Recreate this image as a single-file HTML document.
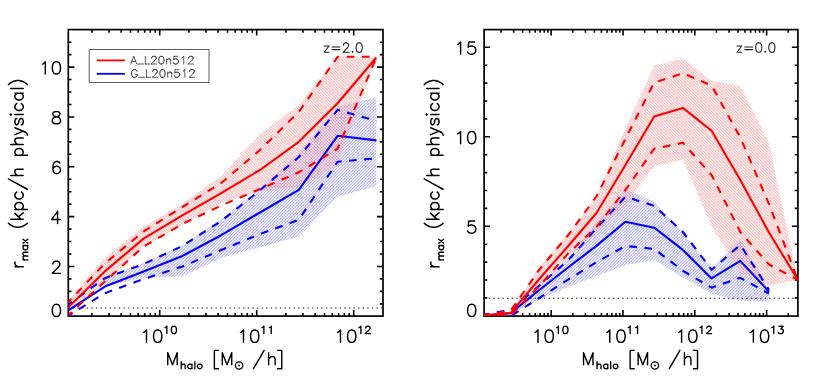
<!DOCTYPE html>
<html><head><meta charset="utf-8"><style>html,body{margin:0;padding:0;background:#fff;font-family:"Liberation Sans",sans-serif}svg{display:block}</style></head><body><svg width="830" height="377" viewBox="0 0 830 377">
<defs><pattern id="hb" patternUnits="userSpaceOnUse" width="3" height="3" shape-rendering="crispEdges"><rect x="0" y="0" width="1" height="1" fill="#0000ff" fill-opacity="0.250"/><rect x="1" y="0" width="1" height="1" fill="#0000ff" fill-opacity="0.170"/><rect x="2" y="0" width="1" height="1" fill="#0000ff" fill-opacity="0.010"/><rect x="0" y="1" width="1" height="1" fill="#0000ff" fill-opacity="0.170"/><rect x="1" y="1" width="1" height="1" fill="#0000ff" fill-opacity="0.010"/><rect x="2" y="1" width="1" height="1" fill="#0000ff" fill-opacity="0.250"/><rect x="0" y="2" width="1" height="1" fill="#0000ff" fill-opacity="0.010"/><rect x="1" y="2" width="1" height="1" fill="#0000ff" fill-opacity="0.250"/><rect x="2" y="2" width="1" height="1" fill="#0000ff" fill-opacity="0.170"/></pattern><pattern id="hr" patternUnits="userSpaceOnUse" width="3" height="3" shape-rendering="crispEdges"><rect x="0" y="0" width="1" height="1" fill="#ff0000" fill-opacity="0.250"/><rect x="1" y="0" width="1" height="1" fill="#ff0000" fill-opacity="0.170"/><rect x="2" y="0" width="1" height="1" fill="#ff0000" fill-opacity="0.010"/><rect x="0" y="1" width="1" height="1" fill="#ff0000" fill-opacity="0.010"/><rect x="1" y="1" width="1" height="1" fill="#ff0000" fill-opacity="0.250"/><rect x="2" y="1" width="1" height="1" fill="#ff0000" fill-opacity="0.170"/><rect x="0" y="2" width="1" height="1" fill="#ff0000" fill-opacity="0.170"/><rect x="1" y="2" width="1" height="1" fill="#ff0000" fill-opacity="0.010"/><rect x="2" y="2" width="1" height="1" fill="#ff0000" fill-opacity="0.250"/></pattern></defs>
<rect width="830" height="377" fill="#fff"/>
<clipPath id="clip1"><rect x="68.30" y="29.60" width="314.70" height="286.50"/></clipPath>
<g clip-path="url(#clip1)">
<polygon points="104.8,277.5 143.6,263.0 182.4,245.0 221.2,219.0 260.0,188.0 298.8,153.0 337.6,107.0 376.4,97.0 376.4,185.9 337.6,196.8 298.8,236.5 260.0,247.5 221.2,258.0 182.4,276.5 143.6,277.5 104.8,287.0" fill="url(#hb)"/>
<polygon points="66.0,303.0 104.8,257.5 143.6,226.6 182.4,203.5 221.2,176.0 260.0,134.0 298.8,105.0 337.6,56.8 376.4,56.8 376.4,57.5 337.6,165.0 298.8,186.9 260.0,190.9 221.2,203.0 182.4,225.0 143.6,245.9 104.8,283.0 66.0,314.0" fill="#fff" fill-opacity="0.3"/>
<polygon points="66.0,303.0 104.8,257.5 143.6,226.6 182.4,203.5 221.2,176.0 260.0,134.0 298.8,105.0 337.6,56.8 376.4,56.8 376.4,57.5 337.6,165.0 298.8,186.9 260.0,190.9 221.2,203.0 182.4,225.0 143.6,245.9 104.8,283.0 66.0,314.0" fill="url(#hr)"/>
</g>
<clipPath id="clip2"><rect x="484.10" y="29.60" width="313.80" height="286.50"/></clipPath>
<g clip-path="url(#clip2)">
<polygon points="510.6,314.0 539.3,284.0 568.0,258.0 596.7,222.0 625.4,189.0 654.2,201.8 682.9,233.0 711.6,268.0 740.3,239.0 769.0,290.0 769.0,301.7 740.3,300.7 711.6,293.7 682.9,277.8 654.2,259.9 625.4,265.0 596.7,276.0 568.0,287.0 539.3,300.0 510.6,314.0" fill="url(#hb)"/>
<polygon points="510.6,313.0 539.3,267.0 568.0,233.5 596.7,196.0 625.4,128.0 654.2,65.8 682.9,58.4 711.6,80.7 740.3,85.7 769.0,143.0 797.8,279.8 797.8,279.8 769.0,285.7 740.3,273.0 711.6,226.0 682.9,159.7 654.2,165.7 625.4,205.0 596.7,232.5 568.0,257.0 539.3,288.0 510.6,315.0" fill="#fff" fill-opacity="0.3"/>
<polygon points="510.6,313.0 539.3,267.0 568.0,233.5 596.7,196.0 625.4,128.0 654.2,65.8 682.9,58.4 711.6,80.7 740.3,85.7 769.0,143.0 797.8,279.8 797.8,279.8 769.0,285.7 740.3,273.0 711.6,226.0 682.9,159.7 654.2,165.7 625.4,205.0 596.7,232.5 568.0,257.0 539.3,288.0 510.6,315.0" fill="url(#hr)"/>
</g>
<path d="M91.90 316.10v-3.20M91.90 29.60v3.20M108.98 316.10v-3.20M108.98 29.60v3.20M121.10 316.10v-3.20M121.10 29.60v3.20M130.50 316.10v-3.20M130.50 29.60v3.20M138.18 316.10v-3.20M138.18 29.60v3.20M144.67 316.10v-3.20M144.67 29.60v3.20M150.30 316.10v-3.20M150.30 29.60v3.20M155.26 316.10v-3.20M155.26 29.60v3.20M159.70 316.10v-6.00M159.70 29.60v6.00M188.90 316.10v-3.20M188.90 29.60v3.20M205.98 316.10v-3.20M205.98 29.60v3.20M218.10 316.10v-3.20M218.10 29.60v3.20M227.50 316.10v-3.20M227.50 29.60v3.20M235.18 316.10v-3.20M235.18 29.60v3.20M241.67 316.10v-3.20M241.67 29.60v3.20M247.30 316.10v-3.20M247.30 29.60v3.20M252.26 316.10v-3.20M252.26 29.60v3.20M256.70 316.10v-6.00M256.70 29.60v6.00M285.90 316.10v-3.20M285.90 29.60v3.20M302.98 316.10v-3.20M302.98 29.60v3.20M315.10 316.10v-3.20M315.10 29.60v3.20M324.50 316.10v-3.20M324.50 29.60v3.20M332.18 316.10v-3.20M332.18 29.60v3.20M338.67 316.10v-3.20M338.67 29.60v3.20M344.30 316.10v-3.20M344.30 29.60v3.20M349.26 316.10v-3.20M349.26 29.60v3.20M353.70 316.10v-6.00M353.70 29.60v6.00M68.30 266.46h6M383.00 266.46h-6M68.30 216.62h6M383.00 216.62h-6M68.30 166.78h6M383.00 166.78h-6M68.30 116.94h6M383.00 116.94h-6M68.30 67.10h6M383.00 67.10h-6M68.30 303.84h3.2M383.00 303.84h-3.2M68.30 291.38h3.2M383.00 291.38h-3.2M68.30 278.92h3.2M383.00 278.92h-3.2M68.30 254.00h3.2M383.00 254.00h-3.2M68.30 241.54h3.2M383.00 241.54h-3.2M68.30 229.08h3.2M383.00 229.08h-3.2M68.30 204.16h3.2M383.00 204.16h-3.2M68.30 191.70h3.2M383.00 191.70h-3.2M68.30 179.24h3.2M383.00 179.24h-3.2M68.30 154.32h3.2M383.00 154.32h-3.2M68.30 141.86h3.2M383.00 141.86h-3.2M68.30 129.40h3.2M383.00 129.40h-3.2M68.30 104.48h3.2M383.00 104.48h-3.2M68.30 92.02h3.2M383.00 92.02h-3.2M68.30 79.56h3.2M383.00 79.56h-3.2M68.30 54.64h3.2M383.00 54.64h-3.2M68.30 42.18h3.2M383.00 42.18h-3.2" stroke="#000" stroke-width="1.6" fill="none"/>
<rect x="68.30" y="29.60" width="314.70" height="286.50" fill="none" stroke="#000" stroke-width="1.70"/>
<path d="M501.01 316.10v-3.20M501.01 29.60v3.20M513.66 316.10v-3.20M513.66 29.60v3.20M522.63 316.10v-3.20M522.63 29.60v3.20M529.59 316.10v-3.20M529.59 29.60v3.20M535.27 316.10v-3.20M535.27 29.60v3.20M540.08 316.10v-3.20M540.08 29.60v3.20M544.24 316.10v-3.20M544.24 29.60v3.20M547.91 316.10v-3.20M547.91 29.60v3.20M551.20 316.10v-6.00M551.20 29.60v6.00M572.81 316.10v-3.20M572.81 29.60v3.20M585.46 316.10v-3.20M585.46 29.60v3.20M594.43 316.10v-3.20M594.43 29.60v3.20M601.39 316.10v-3.20M601.39 29.60v3.20M607.07 316.10v-3.20M607.07 29.60v3.20M611.88 316.10v-3.20M611.88 29.60v3.20M616.04 316.10v-3.20M616.04 29.60v3.20M619.71 316.10v-3.20M619.71 29.60v3.20M623.00 316.10v-6.00M623.00 29.60v6.00M644.61 316.10v-3.20M644.61 29.60v3.20M657.26 316.10v-3.20M657.26 29.60v3.20M666.23 316.10v-3.20M666.23 29.60v3.20M673.19 316.10v-3.20M673.19 29.60v3.20M678.87 316.10v-3.20M678.87 29.60v3.20M683.68 316.10v-3.20M683.68 29.60v3.20M687.84 316.10v-3.20M687.84 29.60v3.20M691.51 316.10v-3.20M691.51 29.60v3.20M694.80 316.10v-6.00M694.80 29.60v6.00M716.41 316.10v-3.20M716.41 29.60v3.20M729.06 316.10v-3.20M729.06 29.60v3.20M738.03 316.10v-3.20M738.03 29.60v3.20M744.99 316.10v-3.20M744.99 29.60v3.20M750.67 316.10v-3.20M750.67 29.60v3.20M755.48 316.10v-3.20M755.48 29.60v3.20M759.64 316.10v-3.20M759.64 29.60v3.20M763.31 316.10v-3.20M763.31 29.60v3.20M766.60 316.10v-6.00M766.60 29.60v6.00M788.21 316.10v-3.20M788.21 29.60v3.20M484.10 226.30h6M797.90 226.30h-6M484.10 136.80h6M797.90 136.80h-6M484.10 47.30h6M797.90 47.30h-6M484.10 297.90h3.2M797.90 297.90h-3.2M484.10 280.00h3.2M797.90 280.00h-3.2M484.10 262.10h3.2M797.90 262.10h-3.2M484.10 244.20h3.2M797.90 244.20h-3.2M484.10 208.40h3.2M797.90 208.40h-3.2M484.10 190.50h3.2M797.90 190.50h-3.2M484.10 172.60h3.2M797.90 172.60h-3.2M484.10 154.70h3.2M797.90 154.70h-3.2M484.10 118.90h3.2M797.90 118.90h-3.2M484.10 101.00h3.2M797.90 101.00h-3.2M484.10 83.10h3.2M797.90 83.10h-3.2M484.10 65.20h3.2M797.90 65.20h-3.2" stroke="#000" stroke-width="1.6" fill="none"/>
<rect x="484.10" y="29.60" width="313.80" height="286.50" fill="none" stroke="#000" stroke-width="1.70"/>
<line x1="68.30" x2="383.00" y1="308.00" y2="308.00" stroke="#111" stroke-width="1.05" stroke-dasharray="1.35 3.25"/>
<g clip-path="url(#clip1)" fill="none" stroke-linejoin="round">
<polyline points="66.0,311.8 104.8,286.6 143.6,271.5 182.4,256.0 221.2,235.2 260.0,212.5 298.8,189.9 337.6,135.8 376.4,140.4" stroke="#0000ff" stroke-width="2.1" />
<polyline points="66.0,306.3 104.8,278.2 143.6,264.0 182.4,246.0 221.2,221.0 260.0,190.3 298.8,157.0 337.6,109.9 376.4,120.9" stroke="#0000ff" stroke-width="2.1" stroke-dasharray="7.7 7.5"/>
<polyline points="66.0,317.0 104.8,293.2 143.6,279.0 182.4,266.5 221.2,250.0 260.0,234.0 298.8,219.8 337.6,161.7 376.4,158.3" stroke="#0000ff" stroke-width="2.1" stroke-dasharray="7.7 7.5"/>
<polyline points="66.0,309.6 104.8,271.4 143.6,238.6 182.4,215.4 221.2,193.1 260.0,170.0 298.8,141.8 337.6,103.3 376.4,57.5" stroke="#ff0000" stroke-width="2.1" />
<polyline points="66.0,304.5 104.8,263.5 143.6,231.5 182.4,207.0 221.2,183.0 260.0,150.0 298.8,111.9 337.6,56.8 376.4,56.8" stroke="#ff0000" stroke-width="2.1" stroke-dasharray="7.7 7.5"/>
<polyline points="66.0,317.2 104.8,281.6 143.6,246.6 182.4,224.0 221.2,205.5 260.0,189.0 298.8,172.3 337.6,148.7 376.4,57.5" stroke="#ff0000" stroke-width="2.1" stroke-dasharray="7.7 7.5"/>
</g>
<line x1="484.10" x2="797.90" y1="298.20" y2="298.20" stroke="#111" stroke-width="1.05" stroke-dasharray="1.35 3.25"/>
<g clip-path="url(#clip2)" fill="none" stroke-linejoin="round">
<polyline points="481.8,315.5 510.6,313.1 539.3,290.0 568.0,267.5 596.7,245.6 625.4,221.7 654.2,227.7 682.9,249.9 711.6,278.4 740.3,260.9 769.0,291.7" stroke="#0000ff" stroke-width="2.1" />
<polyline points="481.8,315.0 510.6,310.0 539.3,285.5 568.0,260.5 596.7,228.0 625.4,196.8 654.2,205.8 682.9,232.0 711.6,269.8 740.3,244.9 769.0,289.7" stroke="#0000ff" stroke-width="2.1" stroke-dasharray="7.7 7.5"/>
<polyline points="481.8,317.0 510.6,316.0 539.3,298.0 568.0,279.7 596.7,262.0 625.4,246.0 654.2,248.9 682.9,270.8 711.6,287.7 740.3,277.8 769.0,293.7" stroke="#0000ff" stroke-width="2.1" stroke-dasharray="7.7 7.5"/>
<polyline points="481.8,315.8 510.6,313.2 539.3,279.0 568.0,246.3 596.7,212.8 625.4,165.0 654.2,116.5 682.9,107.9 711.6,130.8 740.3,180.0 769.0,232.5 797.8,279.8" stroke="#ff0000" stroke-width="2.1" />
<polyline points="481.8,315.3 510.6,310.8 539.3,269.7 568.0,235.3 596.7,196.0 625.4,139.0 654.2,82.5 682.9,73.4 711.6,85.5 740.3,137.5 769.0,204.0 797.8,279.8" stroke="#ff0000" stroke-width="2.1" stroke-dasharray="7.7 7.5"/>
<polyline points="481.8,316.5 510.6,315.5 539.3,286.0 568.0,253.6 596.7,226.7 625.4,190.0 654.2,148.7 682.9,142.8 711.6,175.0 740.3,232.0 769.0,264.5 797.8,279.8" stroke="#ff0000" stroke-width="2.1" stroke-dasharray="7.7 7.5"/>
</g>
<path transform="translate(60.50 273.35)" d="M-2.34 -5.80L-8.19 0.00M-8.19 0.00L0.00 0.00M-5.27 -12.18L-2.93 -12.18M-1.17 -7.54L-2.34 -5.80M-5.27 -12.18L-6.44 -11.60M-2.93 -12.18L-1.76 -11.60M-7.02 -11.02L-7.61 -9.86M-1.17 -11.02L-0.59 -9.86M-0.59 -8.70L-1.17 -7.54M-0.59 -9.86L-0.59 -8.70M-6.44 -11.60L-7.02 -11.02M-1.76 -11.60L-1.17 -11.02M-7.61 -9.86L-7.61 -9.28" fill="none" stroke="#000" stroke-width="1.42" stroke-linecap="round" stroke-linejoin="round" />
<path transform="translate(60.50 223.51)" d="M-2.92 -12.18L-2.92 0.00M-2.92 -12.18L-8.77 -4.06M-8.77 -4.06L0.00 -4.06" fill="none" stroke="#000" stroke-width="1.42" stroke-linecap="round" stroke-linejoin="round" />
<path transform="translate(60.50 173.67)" d="M-7.02 -9.86L-7.61 -6.96M-7.61 -6.96L-7.61 -4.06M-7.61 -4.06L-7.02 -1.74M-5.85 -11.60L-7.02 -9.86M-4.10 -12.18L-5.85 -11.60M-2.93 -12.18L-1.17 -11.60M-4.10 -7.54L-5.85 -6.96M-3.51 -7.54L-1.76 -6.96M-7.02 -5.80L-7.61 -4.06M-0.59 -5.80L0.00 -4.06M0.00 -3.48L-0.59 -1.74M-5.85 -0.58L-4.10 0.00M-1.76 -0.58L-3.51 0.00M-5.85 -6.96L-7.02 -5.80M-1.76 -6.96L-0.59 -5.80M-7.02 -1.74L-5.85 -0.58M-0.59 -1.74L-1.76 -0.58M-1.17 -11.60L-0.59 -10.44M-4.10 -12.18L-2.93 -12.18M-4.10 -7.54L-3.51 -7.54M0.00 -4.06L0.00 -3.48M-4.10 0.00L-3.51 0.00" fill="none" stroke="#000" stroke-width="1.42" stroke-linecap="round" stroke-linejoin="round" />
<path transform="translate(60.50 123.83)" d="M-2.34 -7.54L-6.44 -6.38M-5.85 -7.54L-3.51 -6.96M-5.27 -12.18L-2.93 -12.18M-5.27 0.00L-2.93 0.00M-5.27 -12.18L-7.02 -11.60M-2.93 -12.18L-1.17 -11.60M-3.51 -6.96L-1.76 -6.38M-7.02 -0.58L-5.27 0.00M-1.17 -0.58L-2.93 0.00M-8.19 -4.06L-8.19 -2.32M0.00 -4.06L0.00 -2.32M-6.44 -6.38L-7.61 -5.22M-1.76 -6.38L-0.59 -5.22M-7.02 -11.60L-7.61 -10.44M-1.17 -11.60L-0.59 -10.44M-7.61 -9.28L-7.02 -8.12M-0.59 -9.28L-1.17 -8.12M-7.02 -8.12L-5.85 -7.54M-1.17 -8.12L-2.34 -7.54M-7.61 -5.22L-8.19 -4.06M-0.59 -5.22L0.00 -4.06M-8.19 -2.32L-7.61 -1.16M0.00 -2.32L-0.59 -1.16M-7.61 -10.44L-7.61 -9.28M-0.59 -10.44L-0.59 -9.28M-7.61 -1.16L-7.02 -0.58M-0.59 -1.16L-1.17 -0.58" fill="none" stroke="#000" stroke-width="1.42" stroke-linecap="round" stroke-linejoin="round" />
<path transform="translate(60.50 73.99)" d="M-15.21 -12.18L-15.21 0.00M-15.21 -12.18L-16.96 -10.44M-16.96 -10.44L-18.13 -9.86M-7.61 -9.86L-8.19 -6.96M-0.59 -9.86L0.00 -6.96M-8.19 -5.22L-7.61 -2.32M0.00 -5.22L-0.59 -2.32M-6.44 -11.60L-7.61 -9.86M-1.75 -11.60L-0.59 -9.86M-7.61 -2.32L-6.44 -0.58M-0.59 -2.32L-1.75 -0.58M-4.68 -12.18L-6.44 -11.60M-3.51 -12.18L-1.75 -11.60M-6.44 -0.58L-4.68 0.00M-1.75 -0.58L-3.51 0.00M-8.19 -6.96L-8.19 -5.22M0.00 -6.96L0.00 -5.22M-4.68 -12.18L-3.51 -12.18M-4.68 0.00L-3.51 0.00" fill="none" stroke="#000" stroke-width="1.42" stroke-linecap="round" stroke-linejoin="round" />
<path transform="translate(60.50 316.49)" d="M-7.61 -9.86L-8.19 -6.96M-0.59 -9.86L0.00 -6.96M-8.19 -5.22L-7.61 -2.32M0.00 -5.22L-0.59 -2.32M-6.44 -11.60L-7.61 -9.86M-1.76 -11.60L-0.59 -9.86M-7.61 -2.32L-6.44 -0.58M-0.59 -2.32L-1.76 -0.58M-4.68 -12.18L-6.44 -11.60M-3.51 -12.18L-1.76 -11.60M-6.44 -0.58L-4.68 0.00M-1.76 -0.58L-3.51 0.00M-8.19 -6.96L-8.19 -5.22M0.00 -6.96L0.00 -5.22M-4.68 -12.18L-3.51 -12.18M-4.68 0.00L-3.51 0.00" fill="none" stroke="#000" stroke-width="1.42" stroke-linecap="round" stroke-linejoin="round" />
<path transform="translate(475.80 233.19)" d="M-7.02 -12.18L-1.17 -12.18M-7.02 -12.18L-7.61 -6.96M-5.27 -8.12L-7.02 -7.54M-3.51 -8.12L-1.76 -7.54M-0.59 -6.38L0.00 -4.64M0.00 -3.48L-0.59 -1.74M-7.02 -0.58L-5.27 0.00M-1.76 -0.58L-3.51 0.00M-5.27 -8.12L-3.51 -8.12M-5.27 0.00L-3.51 0.00M-1.76 -7.54L-0.59 -6.38M-0.59 -1.74L-1.76 -0.58M-8.19 -2.32L-7.61 -1.16M0.00 -4.64L0.00 -3.48M-7.02 -7.54L-7.61 -6.96M-7.61 -1.16L-7.02 -0.58" fill="none" stroke="#000" stroke-width="1.42" stroke-linecap="round" stroke-linejoin="round" />
<path transform="translate(475.80 143.69)" d="M-15.21 -12.18L-15.21 0.00M-15.21 -12.18L-16.96 -10.44M-16.96 -10.44L-18.13 -9.86M-7.61 -9.86L-8.19 -6.96M-0.59 -9.86L0.00 -6.96M-8.19 -5.22L-7.61 -2.32M0.00 -5.22L-0.59 -2.32M-6.44 -11.60L-7.61 -9.86M-1.75 -11.60L-0.59 -9.86M-7.61 -2.32L-6.44 -0.58M-0.59 -2.32L-1.75 -0.58M-4.68 -12.18L-6.44 -11.60M-3.51 -12.18L-1.75 -11.60M-6.44 -0.58L-4.68 0.00M-1.75 -0.58L-3.51 0.00M-8.19 -6.96L-8.19 -5.22M0.00 -6.96L0.00 -5.22M-4.68 -12.18L-3.51 -12.18M-4.68 0.00L-3.51 0.00" fill="none" stroke="#000" stroke-width="1.42" stroke-linecap="round" stroke-linejoin="round" />
<path transform="translate(475.80 54.19)" d="M-15.21 -12.18L-15.21 0.00M-15.21 -12.18L-16.96 -10.44M-16.96 -10.44L-18.13 -9.86M-7.02 -12.18L-1.17 -12.18M-7.02 -12.18L-7.61 -6.96M-5.27 -8.12L-7.02 -7.54M-3.51 -8.12L-1.75 -7.54M-0.59 -6.38L0.00 -4.64M0.00 -3.48L-0.59 -1.74M-7.02 -0.58L-5.27 0.00M-1.75 -0.58L-3.51 0.00M-5.27 -8.12L-3.51 -8.12M-5.27 0.00L-3.51 0.00M-1.75 -7.54L-0.59 -6.38M-0.59 -1.74L-1.75 -0.58M-8.19 -2.32L-7.61 -1.16M0.00 -4.64L0.00 -3.48M-7.02 -7.54L-7.61 -6.96M-7.61 -1.16L-7.02 -0.58" fill="none" stroke="#000" stroke-width="1.42" stroke-linecap="round" stroke-linejoin="round" />
<path transform="translate(475.80 316.49)" d="M-7.61 -9.86L-8.19 -6.96M-0.59 -9.86L0.00 -6.96M-8.19 -5.22L-7.61 -2.32M0.00 -5.22L-0.59 -2.32M-6.44 -11.60L-7.61 -9.86M-1.76 -11.60L-0.59 -9.86M-7.61 -2.32L-6.44 -0.58M-0.59 -2.32L-1.76 -0.58M-4.68 -12.18L-6.44 -11.60M-3.51 -12.18L-1.76 -11.60M-6.44 -0.58L-4.68 0.00M-1.76 -0.58L-3.51 0.00M-8.19 -6.96L-8.19 -5.22M0.00 -6.96L0.00 -5.22M-4.68 -12.18L-3.51 -12.18M-4.68 0.00L-3.51 0.00" fill="none" stroke="#000" stroke-width="1.42" stroke-linecap="round" stroke-linejoin="round" />
<path transform="translate(140.00 342.35)" d="M6.49 -12.29L6.49 0.00M6.49 -12.29L4.72 -10.53M4.72 -10.53L3.54 -9.95M14.16 -9.95L13.57 -7.02M21.24 -9.95L21.83 -7.02M13.57 -5.26L14.16 -2.34M21.83 -5.26L21.24 -2.34M15.34 -11.70L14.16 -9.95M20.06 -11.70L21.24 -9.95M14.16 -2.34L15.34 -0.58M21.24 -2.34L20.06 -0.58M17.11 -12.29L15.34 -11.70M18.29 -12.29L20.06 -11.70M15.34 -0.58L17.11 0.00M20.06 -0.58L18.29 0.00M13.57 -7.02L13.57 -5.26M21.83 -7.02L21.83 -5.26M17.11 -12.29L18.29 -12.29M17.11 0.00L18.29 0.00" fill="none" stroke="#000" stroke-width="1.45" stroke-linecap="round" stroke-linejoin="round" />
<path transform="translate(162.80 333.60)" d="M4.07 -7.35L4.07 0.00M4.07 -7.35L2.96 -6.30M2.96 -6.30L2.22 -5.95M8.88 -5.95L8.51 -4.20M13.32 -5.95L13.69 -4.20M8.51 -3.15L8.88 -1.40M13.69 -3.15L13.32 -1.40M9.62 -7.00L8.88 -5.95M12.58 -7.00L13.32 -5.95M8.88 -1.40L9.62 -0.35M13.32 -1.40L12.58 -0.35M10.73 -7.35L9.62 -7.00M11.47 -7.35L12.58 -7.00M9.62 -0.35L10.73 0.00M12.58 -0.35L11.47 0.00M8.51 -4.20L8.51 -3.15M13.69 -4.20L13.69 -3.15M10.73 -7.35L11.47 -7.35M10.73 0.00L11.47 0.00" fill="none" stroke="#000" stroke-width="1.35" stroke-linecap="round" stroke-linejoin="round" />
<path transform="translate(237.00 342.35)" d="M6.49 -12.29L6.49 0.00M6.49 -12.29L4.72 -10.53M4.72 -10.53L3.54 -9.95M14.16 -9.95L13.57 -7.02M21.24 -9.95L21.83 -7.02M13.57 -5.26L14.16 -2.34M21.83 -5.26L21.24 -2.34M15.34 -11.70L14.16 -9.95M20.06 -11.70L21.24 -9.95M14.16 -2.34L15.34 -0.58M21.24 -2.34L20.06 -0.58M17.11 -12.29L15.34 -11.70M18.29 -12.29L20.06 -11.70M15.34 -0.58L17.11 0.00M20.06 -0.58L18.29 0.00M13.57 -7.02L13.57 -5.26M21.83 -7.02L21.83 -5.26M17.11 -12.29L18.29 -12.29M17.11 0.00L18.29 0.00" fill="none" stroke="#000" stroke-width="1.45" stroke-linecap="round" stroke-linejoin="round" />
<path transform="translate(259.80 333.60)" d="M4.07 -7.35L4.07 0.00M4.07 -7.35L2.96 -6.30M2.96 -6.30L2.22 -5.95M11.47 -7.35L11.47 0.00M11.47 -7.35L10.36 -6.30M10.36 -6.30L9.62 -5.95" fill="none" stroke="#000" stroke-width="1.35" stroke-linecap="round" stroke-linejoin="round" />
<path transform="translate(334.00 342.35)" d="M6.49 -12.29L6.49 0.00M6.49 -12.29L4.72 -10.53M4.72 -10.53L3.54 -9.95M14.16 -9.95L13.57 -7.02M21.24 -9.95L21.83 -7.02M13.57 -5.26L14.16 -2.34M21.83 -5.26L21.24 -2.34M15.34 -11.70L14.16 -9.95M20.06 -11.70L21.24 -9.95M14.16 -2.34L15.34 -0.58M21.24 -2.34L20.06 -0.58M17.11 -12.29L15.34 -11.70M18.29 -12.29L20.06 -11.70M15.34 -0.58L17.11 0.00M20.06 -0.58L18.29 0.00M13.57 -7.02L13.57 -5.26M21.83 -7.02L21.83 -5.26M17.11 -12.29L18.29 -12.29M17.11 0.00L18.29 0.00" fill="none" stroke="#000" stroke-width="1.45" stroke-linecap="round" stroke-linejoin="round" />
<path transform="translate(356.80 333.60)" d="M4.07 -7.35L4.07 0.00M4.07 -7.35L2.96 -6.30M2.96 -6.30L2.22 -5.95M12.21 -3.50L8.51 0.00M8.51 0.00L13.69 0.00M10.36 -7.35L11.84 -7.35M12.95 -4.55L12.21 -3.50M10.36 -7.35L9.62 -7.00M11.84 -7.35L12.58 -7.00M9.25 -6.65L8.88 -5.95M12.95 -6.65L13.32 -5.95M13.32 -5.25L12.95 -4.55M13.32 -5.95L13.32 -5.25M9.62 -7.00L9.25 -6.65M12.58 -7.00L12.95 -6.65M8.88 -5.95L8.88 -5.60" fill="none" stroke="#000" stroke-width="1.35" stroke-linecap="round" stroke-linejoin="round" />
<path transform="translate(531.50 342.35)" d="M6.49 -12.29L6.49 0.00M6.49 -12.29L4.72 -10.53M4.72 -10.53L3.54 -9.95M14.16 -9.95L13.57 -7.02M21.24 -9.95L21.83 -7.02M13.57 -5.26L14.16 -2.34M21.83 -5.26L21.24 -2.34M15.34 -11.70L14.16 -9.95M20.06 -11.70L21.24 -9.95M14.16 -2.34L15.34 -0.58M21.24 -2.34L20.06 -0.58M17.11 -12.29L15.34 -11.70M18.29 -12.29L20.06 -11.70M15.34 -0.58L17.11 0.00M20.06 -0.58L18.29 0.00M13.57 -7.02L13.57 -5.26M21.83 -7.02L21.83 -5.26M17.11 -12.29L18.29 -12.29M17.11 0.00L18.29 0.00" fill="none" stroke="#000" stroke-width="1.45" stroke-linecap="round" stroke-linejoin="round" />
<path transform="translate(554.30 333.60)" d="M4.07 -7.35L4.07 0.00M4.07 -7.35L2.96 -6.30M2.96 -6.30L2.22 -5.95M8.88 -5.95L8.51 -4.20M13.32 -5.95L13.69 -4.20M8.51 -3.15L8.88 -1.40M13.69 -3.15L13.32 -1.40M9.62 -7.00L8.88 -5.95M12.58 -7.00L13.32 -5.95M8.88 -1.40L9.62 -0.35M13.32 -1.40L12.58 -0.35M10.73 -7.35L9.62 -7.00M11.47 -7.35L12.58 -7.00M9.62 -0.35L10.73 0.00M12.58 -0.35L11.47 0.00M8.51 -4.20L8.51 -3.15M13.69 -4.20L13.69 -3.15M10.73 -7.35L11.47 -7.35M10.73 0.00L11.47 0.00" fill="none" stroke="#000" stroke-width="1.35" stroke-linecap="round" stroke-linejoin="round" />
<path transform="translate(603.30 342.35)" d="M6.49 -12.29L6.49 0.00M6.49 -12.29L4.72 -10.53M4.72 -10.53L3.54 -9.95M14.16 -9.95L13.57 -7.02M21.24 -9.95L21.83 -7.02M13.57 -5.26L14.16 -2.34M21.83 -5.26L21.24 -2.34M15.34 -11.70L14.16 -9.95M20.06 -11.70L21.24 -9.95M14.16 -2.34L15.34 -0.58M21.24 -2.34L20.06 -0.58M17.11 -12.29L15.34 -11.70M18.29 -12.29L20.06 -11.70M15.34 -0.58L17.11 0.00M20.06 -0.58L18.29 0.00M13.57 -7.02L13.57 -5.26M21.83 -7.02L21.83 -5.26M17.11 -12.29L18.29 -12.29M17.11 0.00L18.29 0.00" fill="none" stroke="#000" stroke-width="1.45" stroke-linecap="round" stroke-linejoin="round" />
<path transform="translate(626.10 333.60)" d="M4.07 -7.35L4.07 0.00M4.07 -7.35L2.96 -6.30M2.96 -6.30L2.22 -5.95M11.47 -7.35L11.47 0.00M11.47 -7.35L10.36 -6.30M10.36 -6.30L9.62 -5.95" fill="none" stroke="#000" stroke-width="1.35" stroke-linecap="round" stroke-linejoin="round" />
<path transform="translate(675.10 342.35)" d="M6.49 -12.29L6.49 0.00M6.49 -12.29L4.72 -10.53M4.72 -10.53L3.54 -9.95M14.16 -9.95L13.57 -7.02M21.24 -9.95L21.83 -7.02M13.57 -5.26L14.16 -2.34M21.83 -5.26L21.24 -2.34M15.34 -11.70L14.16 -9.95M20.06 -11.70L21.24 -9.95M14.16 -2.34L15.34 -0.58M21.24 -2.34L20.06 -0.58M17.11 -12.29L15.34 -11.70M18.29 -12.29L20.06 -11.70M15.34 -0.58L17.11 0.00M20.06 -0.58L18.29 0.00M13.57 -7.02L13.57 -5.26M21.83 -7.02L21.83 -5.26M17.11 -12.29L18.29 -12.29M17.11 0.00L18.29 0.00" fill="none" stroke="#000" stroke-width="1.45" stroke-linecap="round" stroke-linejoin="round" />
<path transform="translate(697.90 333.60)" d="M4.07 -7.35L4.07 0.00M4.07 -7.35L2.96 -6.30M2.96 -6.30L2.22 -5.95M12.21 -3.50L8.51 0.00M8.51 0.00L13.69 0.00M10.36 -7.35L11.84 -7.35M12.95 -4.55L12.21 -3.50M10.36 -7.35L9.62 -7.00M11.84 -7.35L12.58 -7.00M9.25 -6.65L8.88 -5.95M12.95 -6.65L13.32 -5.95M13.32 -5.25L12.95 -4.55M13.32 -5.95L13.32 -5.25M9.62 -7.00L9.25 -6.65M12.58 -7.00L12.95 -6.65M8.88 -5.95L8.88 -5.60" fill="none" stroke="#000" stroke-width="1.35" stroke-linecap="round" stroke-linejoin="round" />
<path transform="translate(746.90 342.35)" d="M6.49 -12.29L6.49 0.00M6.49 -12.29L4.72 -10.53M4.72 -10.53L3.54 -9.95M14.16 -9.95L13.57 -7.02M21.24 -9.95L21.83 -7.02M13.57 -5.26L14.16 -2.34M21.83 -5.26L21.24 -2.34M15.34 -11.70L14.16 -9.95M20.06 -11.70L21.24 -9.95M14.16 -2.34L15.34 -0.58M21.24 -2.34L20.06 -0.58M17.11 -12.29L15.34 -11.70M18.29 -12.29L20.06 -11.70M15.34 -0.58L17.11 0.00M20.06 -0.58L18.29 0.00M13.57 -7.02L13.57 -5.26M21.83 -7.02L21.83 -5.26M17.11 -12.29L18.29 -12.29M17.11 0.00L18.29 0.00" fill="none" stroke="#000" stroke-width="1.45" stroke-linecap="round" stroke-linejoin="round" />
<path transform="translate(769.70 333.60)" d="M4.07 -7.35L4.07 0.00M4.07 -7.35L2.96 -6.30M2.96 -6.30L2.22 -5.95M9.25 -7.35L13.32 -7.35M13.32 -7.35L11.10 -4.55M13.32 -3.85L13.69 -2.80M13.69 -2.10L13.32 -1.05M9.25 -0.35L10.36 0.00M12.58 -0.35L11.47 0.00M11.10 -4.55L12.21 -4.55M10.36 0.00L11.47 0.00M13.32 -1.05L12.58 -0.35M12.21 -4.55L12.95 -4.20M8.51 -1.40L8.88 -0.70M13.69 -2.80L13.69 -2.10M12.95 -4.20L13.32 -3.85M8.88 -0.70L9.25 -0.35" fill="none" stroke="#000" stroke-width="1.35" stroke-linecap="round" stroke-linejoin="round" />
<path transform="translate(167.75 364.70)" d="M0.00 -12.07L4.72 0.00M9.44 -12.07L4.72 0.00M0.00 -12.07L0.00 0.00M9.44 -12.07L9.44 0.00" fill="none" stroke="#000" stroke-width="1.40" stroke-linecap="round" stroke-linejoin="round" />
<path transform="translate(181.20 368.70)" d="M0.00 -6.93L0.00 0.00M3.96 -3.30L3.96 0.00M1.08 -4.29L0.00 -3.30M3.60 -4.29L3.96 -3.30M1.80 -4.62L2.88 -4.62M1.80 -4.62L1.08 -4.29M2.88 -4.62L3.60 -4.29M10.80 -4.62L10.80 0.00M6.84 -3.63L6.48 -2.64M6.48 -1.98L6.84 -0.99M8.28 -4.62L9.36 -4.62M8.28 0.00L9.36 0.00M7.56 -4.29L6.84 -3.63M10.08 -4.29L10.80 -3.63M6.84 -0.99L7.56 -0.33M10.80 -0.99L10.08 -0.33M8.28 -4.62L7.56 -4.29M9.36 -4.62L10.08 -4.29M7.56 -0.33L8.28 0.00M10.08 -0.33L9.36 0.00M6.48 -2.64L6.48 -1.98M13.68 -6.93L13.68 0.00M16.56 -3.63L16.20 -2.64M20.52 -3.63L20.88 -2.64M16.20 -1.98L16.56 -0.99M20.88 -1.98L20.52 -0.99M18.00 -4.62L19.08 -4.62M18.00 0.00L19.08 0.00M17.28 -4.29L16.56 -3.63M19.80 -4.29L20.52 -3.63M16.56 -0.99L17.28 -0.33M20.52 -0.99L19.80 -0.33M18.00 -4.62L17.28 -4.29M19.08 -4.62L19.80 -4.29M17.28 -0.33L18.00 0.00M19.80 -0.33L19.08 0.00M16.20 -2.64L16.20 -1.98M20.88 -2.64L20.88 -1.98" fill="none" stroke="#000" stroke-width="1.30" stroke-linecap="round" stroke-linejoin="round" />
<path transform="translate(214.35 364.70)" d="M0.00 -14.37L0.00 4.02M0.00 -14.37L4.13 -14.37M0.00 4.02L4.13 4.02" fill="none" stroke="#000" stroke-width="1.40" stroke-linecap="round" stroke-linejoin="round" />
<path transform="translate(222.30 364.70)" d="M0.00 -12.07L4.72 0.00M9.44 -12.07L4.72 0.00M0.00 -12.07L0.00 0.00M9.44 -12.07L9.44 0.00" fill="none" stroke="#000" stroke-width="1.40" stroke-linecap="round" stroke-linejoin="round" />
<circle cx="239.10" cy="365.50" r="3.70" fill="none" stroke="#000" stroke-width="1.30"/><circle cx="239.10" cy="365.50" r="0.9" fill="#000"/>
<path transform="translate(253.45 364.70)" d="M10.62 -14.37L5.31 -5.17M5.31 -5.17L0.00 4.02" fill="none" stroke="#000" stroke-width="1.40" stroke-linecap="round" stroke-linejoin="round" />
<path transform="translate(268.65 364.70)" d="M0.00 -12.07L0.00 0.00M6.49 -5.75L6.49 0.00M1.77 -7.47L0.00 -5.75M5.90 -7.47L6.49 -5.75M2.95 -8.05L4.72 -8.05M2.95 -8.05L1.77 -7.47M4.72 -8.05L5.90 -7.47" fill="none" stroke="#000" stroke-width="1.40" stroke-linecap="round" stroke-linejoin="round" />
<path transform="translate(277.60 364.70)" d="M4.13 -14.37L4.13 4.02M0.00 -14.37L4.13 -14.37M0.00 4.02L4.13 4.02" fill="none" stroke="#000" stroke-width="1.40" stroke-linecap="round" stroke-linejoin="round" />
<path transform="translate(583.55 364.70)" d="M0.00 -12.07L4.72 0.00M9.44 -12.07L4.72 0.00M0.00 -12.07L0.00 0.00M9.44 -12.07L9.44 0.00" fill="none" stroke="#000" stroke-width="1.40" stroke-linecap="round" stroke-linejoin="round" />
<path transform="translate(597.00 368.70)" d="M0.00 -6.93L0.00 0.00M3.96 -3.30L3.96 0.00M1.08 -4.29L0.00 -3.30M3.60 -4.29L3.96 -3.30M1.80 -4.62L2.88 -4.62M1.80 -4.62L1.08 -4.29M2.88 -4.62L3.60 -4.29M10.80 -4.62L10.80 0.00M6.84 -3.63L6.48 -2.64M6.48 -1.98L6.84 -0.99M8.28 -4.62L9.36 -4.62M8.28 0.00L9.36 0.00M7.56 -4.29L6.84 -3.63M10.08 -4.29L10.80 -3.63M6.84 -0.99L7.56 -0.33M10.80 -0.99L10.08 -0.33M8.28 -4.62L7.56 -4.29M9.36 -4.62L10.08 -4.29M7.56 -0.33L8.28 0.00M10.08 -0.33L9.36 0.00M6.48 -2.64L6.48 -1.98M13.68 -6.93L13.68 0.00M16.56 -3.63L16.20 -2.64M20.52 -3.63L20.88 -2.64M16.20 -1.98L16.56 -0.99M20.88 -1.98L20.52 -0.99M18.00 -4.62L19.08 -4.62M18.00 0.00L19.08 0.00M17.28 -4.29L16.56 -3.63M19.80 -4.29L20.52 -3.63M16.56 -0.99L17.28 -0.33M20.52 -0.99L19.80 -0.33M18.00 -4.62L17.28 -4.29M19.08 -4.62L19.80 -4.29M17.28 -0.33L18.00 0.00M19.80 -0.33L19.08 0.00M16.20 -2.64L16.20 -1.98M20.88 -2.64L20.88 -1.98" fill="none" stroke="#000" stroke-width="1.30" stroke-linecap="round" stroke-linejoin="round" />
<path transform="translate(630.15 364.70)" d="M0.00 -14.37L0.00 4.02M0.00 -14.37L4.13 -14.37M0.00 4.02L4.13 4.02" fill="none" stroke="#000" stroke-width="1.40" stroke-linecap="round" stroke-linejoin="round" />
<path transform="translate(638.10 364.70)" d="M0.00 -12.07L4.72 0.00M9.44 -12.07L4.72 0.00M0.00 -12.07L0.00 0.00M9.44 -12.07L9.44 0.00" fill="none" stroke="#000" stroke-width="1.40" stroke-linecap="round" stroke-linejoin="round" />
<circle cx="654.90" cy="365.50" r="3.70" fill="none" stroke="#000" stroke-width="1.30"/><circle cx="654.90" cy="365.50" r="0.9" fill="#000"/>
<path transform="translate(669.25 364.70)" d="M10.62 -14.37L5.31 -5.17M5.31 -5.17L0.00 4.02" fill="none" stroke="#000" stroke-width="1.40" stroke-linecap="round" stroke-linejoin="round" />
<path transform="translate(684.45 364.70)" d="M0.00 -12.07L0.00 0.00M6.49 -5.75L6.49 0.00M1.77 -7.47L0.00 -5.75M5.90 -7.47L6.49 -5.75M2.95 -8.05L4.72 -8.05M2.95 -8.05L1.77 -7.47M4.72 -8.05L5.90 -7.47" fill="none" stroke="#000" stroke-width="1.40" stroke-linecap="round" stroke-linejoin="round" />
<path transform="translate(693.40 364.70)" d="M4.13 -14.37L4.13 4.02M0.00 -14.37L4.13 -14.37M0.00 4.02L4.13 4.02" fill="none" stroke="#000" stroke-width="1.40" stroke-linecap="round" stroke-linejoin="round" />
<path transform="translate(23.20 269.00) rotate(-90)" d="M2.30 -8.26L2.30 0.00M2.88 -6.49L2.30 -4.72M5.17 -8.26L6.90 -8.26M4.02 -7.67L2.88 -6.49M5.17 -8.26L4.02 -7.67" fill="none" stroke="#000" stroke-width="1.50" stroke-linecap="round" stroke-linejoin="round" />
<path transform="translate(27.80 261.30) rotate(-90)" d="M1.40 -4.76L1.40 0.00M5.25 -3.40L5.25 0.00M9.10 -3.40L9.10 0.00M2.45 -4.42L1.40 -3.40M6.30 -4.42L5.25 -3.40M4.90 -4.42L5.25 -3.40M8.75 -4.42L9.10 -3.40M3.15 -4.76L4.20 -4.76M7.00 -4.76L8.05 -4.76M3.15 -4.76L2.45 -4.42M4.20 -4.76L4.90 -4.42M7.00 -4.76L6.30 -4.42M8.05 -4.76L8.75 -4.42M15.75 -4.76L15.75 0.00M11.90 -3.74L11.55 -2.72M11.55 -2.04L11.90 -1.02M13.30 -4.76L14.35 -4.76M13.30 0.00L14.35 0.00M12.60 -4.42L11.90 -3.74M15.05 -4.42L15.75 -3.74M11.90 -1.02L12.60 -0.34M15.75 -1.02L15.05 -0.34M13.30 -4.76L12.60 -4.42M14.35 -4.76L15.05 -4.42M12.60 -0.34L13.30 0.00M15.05 -0.34L14.35 0.00M11.55 -2.72L11.55 -2.04M18.20 -4.76L22.05 0.00M22.05 -4.76L18.20 0.00" fill="none" stroke="#000" stroke-width="1.40" stroke-linecap="round" stroke-linejoin="round" />
<path transform="translate(23.20 229.50) rotate(-90)" d="M2.88 -9.44L2.30 -6.49M2.30 -4.13L2.88 -1.18M4.02 -11.80L2.88 -9.44M2.88 -1.18L4.02 1.18M2.30 -6.49L2.30 -4.13M5.17 -13.57L4.02 -11.80M4.02 1.18L5.17 2.95M6.32 -14.75L5.17 -13.57M5.17 2.95L6.32 4.13M10.35 -12.39L10.35 0.00M16.10 -8.26L10.35 -2.36M12.65 -4.72L16.67 0.00M20.12 -8.26L20.12 4.13M26.45 -6.49L27.02 -4.72M27.02 -3.54L26.45 -1.77M22.42 -8.26L24.15 -8.26M22.42 0.00L24.15 0.00M21.27 -7.67L20.12 -6.49M25.30 -7.67L26.45 -6.49M20.12 -1.77L21.27 -0.59M26.45 -1.77L25.30 -0.59M22.42 -8.26L21.27 -7.67M24.15 -8.26L25.30 -7.67M21.27 -0.59L22.42 0.00M25.30 -0.59L24.15 0.00M27.02 -4.72L27.02 -3.54M31.05 -6.49L30.47 -4.72M30.47 -3.54L31.05 -1.77M33.35 -8.26L35.07 -8.26M33.35 0.00L35.07 0.00M32.20 -7.67L31.05 -6.49M36.22 -7.67L37.38 -6.49M31.05 -1.77L32.20 -0.59M37.38 -1.77L36.22 -0.59M33.35 -8.26L32.20 -7.67M35.07 -8.26L36.22 -7.67M32.20 -0.59L33.35 0.00M36.22 -0.59L35.07 0.00M30.47 -4.72L30.47 -3.54M50.60 -14.75L45.42 -5.31M45.42 -5.31L40.25 4.13M54.05 -12.39L54.05 0.00M60.37 -5.90L60.37 0.00M55.77 -7.67L54.05 -5.90M59.80 -7.67L60.37 -5.90M56.92 -8.26L58.65 -8.26M56.92 -8.26L55.77 -7.67M58.65 -8.26L59.80 -7.67M74.17 -8.26L74.17 4.13M80.50 -6.49L81.07 -4.72M81.07 -3.54L80.50 -1.77M76.47 -8.26L78.20 -8.26M76.47 0.00L78.20 0.00M75.32 -7.67L74.17 -6.49M79.35 -7.67L80.50 -6.49M74.17 -1.77L75.32 -0.59M80.50 -1.77L79.35 -0.59M76.47 -8.26L75.32 -7.67M78.20 -8.26L79.35 -7.67M75.32 -0.59L76.47 0.00M79.35 -0.59L78.20 0.00M81.07 -4.72L81.07 -3.54M85.10 -12.39L85.10 0.00M91.42 -5.90L91.42 0.00M86.82 -7.67L85.10 -5.90M90.85 -7.67L91.42 -5.90M87.97 -8.26L89.70 -8.26M87.97 -8.26L86.82 -7.67M89.70 -8.26L90.85 -7.67M101.77 -8.26L97.75 1.18M94.87 -8.26L98.32 0.00M97.17 2.36L96.02 3.54M97.75 1.18L97.17 2.36M96.02 3.54L94.87 4.13M94.30 4.13L94.87 4.13M106.37 -4.72L109.25 -4.13M106.95 -8.26L105.22 -7.67M108.67 -8.26L110.40 -7.67M105.22 -0.59L106.95 0.00M110.40 -0.59L108.67 0.00M106.95 -8.26L108.67 -8.26M106.95 0.00L108.67 0.00M105.22 -7.67L104.65 -6.49M110.40 -7.67L110.97 -6.49M104.65 -6.49L105.22 -5.31M105.22 -5.31L106.37 -4.72M109.25 -4.13L110.40 -3.54M110.40 -3.54L110.97 -2.36M104.65 -1.77L105.22 -0.59M110.97 -1.77L110.40 -0.59M110.97 -2.36L110.97 -1.77M115.00 -8.26L115.00 0.00M115.00 -12.98L114.42 -12.39M115.00 -12.98L115.57 -12.39M114.42 -12.39L115.00 -11.80M115.57 -12.39L115.00 -11.80M119.60 -6.49L119.02 -4.72M119.02 -3.54L119.60 -1.77M121.90 -8.26L123.62 -8.26M121.90 0.00L123.62 0.00M120.75 -7.67L119.60 -6.49M124.77 -7.67L125.92 -6.49M119.60 -1.77L120.75 -0.59M125.92 -1.77L124.77 -0.59M121.90 -8.26L120.75 -7.67M123.62 -8.26L124.77 -7.67M120.75 -0.59L121.90 0.00M124.77 -0.59L123.62 0.00M119.02 -4.72L119.02 -3.54M136.27 -8.26L136.27 0.00M129.95 -6.49L129.38 -4.72M129.38 -3.54L129.95 -1.77M132.25 -8.26L133.97 -8.26M132.25 0.00L133.97 0.00M131.10 -7.67L129.95 -6.49M135.12 -7.67L136.27 -6.49M129.95 -1.77L131.10 -0.59M136.27 -1.77L135.12 -0.59M132.25 -8.26L131.10 -7.67M133.97 -8.26L135.12 -7.67M131.10 -0.59L132.25 0.00M135.12 -0.59L133.97 0.00M129.38 -4.72L129.38 -3.54M140.88 -12.39L140.88 0.00M148.35 -9.44L148.92 -6.49M148.92 -4.13L148.35 -1.18M147.20 -11.80L148.35 -9.44M148.35 -1.18L147.20 1.18M148.92 -6.49L148.92 -4.13M146.05 -13.57L147.20 -11.80M147.20 1.18L146.05 2.95M144.90 -14.75L146.05 -13.57M146.05 2.95L144.90 4.13" fill="none" stroke="#000" stroke-width="1.50" stroke-linecap="round" stroke-linejoin="round" />
<path transform="translate(439.00 269.00) rotate(-90)" d="M2.30 -8.26L2.30 0.00M2.88 -6.49L2.30 -4.72M5.17 -8.26L6.90 -8.26M4.02 -7.67L2.88 -6.49M5.17 -8.26L4.02 -7.67" fill="none" stroke="#000" stroke-width="1.50" stroke-linecap="round" stroke-linejoin="round" />
<path transform="translate(443.60 261.30) rotate(-90)" d="M1.40 -4.76L1.40 0.00M5.25 -3.40L5.25 0.00M9.10 -3.40L9.10 0.00M2.45 -4.42L1.40 -3.40M6.30 -4.42L5.25 -3.40M4.90 -4.42L5.25 -3.40M8.75 -4.42L9.10 -3.40M3.15 -4.76L4.20 -4.76M7.00 -4.76L8.05 -4.76M3.15 -4.76L2.45 -4.42M4.20 -4.76L4.90 -4.42M7.00 -4.76L6.30 -4.42M8.05 -4.76L8.75 -4.42M15.75 -4.76L15.75 0.00M11.90 -3.74L11.55 -2.72M11.55 -2.04L11.90 -1.02M13.30 -4.76L14.35 -4.76M13.30 0.00L14.35 0.00M12.60 -4.42L11.90 -3.74M15.05 -4.42L15.75 -3.74M11.90 -1.02L12.60 -0.34M15.75 -1.02L15.05 -0.34M13.30 -4.76L12.60 -4.42M14.35 -4.76L15.05 -4.42M12.60 -0.34L13.30 0.00M15.05 -0.34L14.35 0.00M11.55 -2.72L11.55 -2.04M18.20 -4.76L22.05 0.00M22.05 -4.76L18.20 0.00" fill="none" stroke="#000" stroke-width="1.40" stroke-linecap="round" stroke-linejoin="round" />
<path transform="translate(439.00 229.50) rotate(-90)" d="M2.88 -9.44L2.30 -6.49M2.30 -4.13L2.88 -1.18M4.02 -11.80L2.88 -9.44M2.88 -1.18L4.02 1.18M2.30 -6.49L2.30 -4.13M5.17 -13.57L4.02 -11.80M4.02 1.18L5.17 2.95M6.32 -14.75L5.17 -13.57M5.17 2.95L6.32 4.13M10.35 -12.39L10.35 0.00M16.10 -8.26L10.35 -2.36M12.65 -4.72L16.67 0.00M20.12 -8.26L20.12 4.13M26.45 -6.49L27.02 -4.72M27.02 -3.54L26.45 -1.77M22.42 -8.26L24.15 -8.26M22.42 0.00L24.15 0.00M21.27 -7.67L20.12 -6.49M25.30 -7.67L26.45 -6.49M20.12 -1.77L21.27 -0.59M26.45 -1.77L25.30 -0.59M22.42 -8.26L21.27 -7.67M24.15 -8.26L25.30 -7.67M21.27 -0.59L22.42 0.00M25.30 -0.59L24.15 0.00M27.02 -4.72L27.02 -3.54M31.05 -6.49L30.47 -4.72M30.47 -3.54L31.05 -1.77M33.35 -8.26L35.07 -8.26M33.35 0.00L35.07 0.00M32.20 -7.67L31.05 -6.49M36.22 -7.67L37.38 -6.49M31.05 -1.77L32.20 -0.59M37.38 -1.77L36.22 -0.59M33.35 -8.26L32.20 -7.67M35.07 -8.26L36.22 -7.67M32.20 -0.59L33.35 0.00M36.22 -0.59L35.07 0.00M30.47 -4.72L30.47 -3.54M50.60 -14.75L45.42 -5.31M45.42 -5.31L40.25 4.13M54.05 -12.39L54.05 0.00M60.37 -5.90L60.37 0.00M55.77 -7.67L54.05 -5.90M59.80 -7.67L60.37 -5.90M56.92 -8.26L58.65 -8.26M56.92 -8.26L55.77 -7.67M58.65 -8.26L59.80 -7.67M74.17 -8.26L74.17 4.13M80.50 -6.49L81.07 -4.72M81.07 -3.54L80.50 -1.77M76.47 -8.26L78.20 -8.26M76.47 0.00L78.20 0.00M75.32 -7.67L74.17 -6.49M79.35 -7.67L80.50 -6.49M74.17 -1.77L75.32 -0.59M80.50 -1.77L79.35 -0.59M76.47 -8.26L75.32 -7.67M78.20 -8.26L79.35 -7.67M75.32 -0.59L76.47 0.00M79.35 -0.59L78.20 0.00M81.07 -4.72L81.07 -3.54M85.10 -12.39L85.10 0.00M91.42 -5.90L91.42 0.00M86.82 -7.67L85.10 -5.90M90.85 -7.67L91.42 -5.90M87.97 -8.26L89.70 -8.26M87.97 -8.26L86.82 -7.67M89.70 -8.26L90.85 -7.67M101.77 -8.26L97.75 1.18M94.87 -8.26L98.32 0.00M97.17 2.36L96.02 3.54M97.75 1.18L97.17 2.36M96.02 3.54L94.87 4.13M94.30 4.13L94.87 4.13M106.37 -4.72L109.25 -4.13M106.95 -8.26L105.22 -7.67M108.67 -8.26L110.40 -7.67M105.22 -0.59L106.95 0.00M110.40 -0.59L108.67 0.00M106.95 -8.26L108.67 -8.26M106.95 0.00L108.67 0.00M105.22 -7.67L104.65 -6.49M110.40 -7.67L110.97 -6.49M104.65 -6.49L105.22 -5.31M105.22 -5.31L106.37 -4.72M109.25 -4.13L110.40 -3.54M110.40 -3.54L110.97 -2.36M104.65 -1.77L105.22 -0.59M110.97 -1.77L110.40 -0.59M110.97 -2.36L110.97 -1.77M115.00 -8.26L115.00 0.00M115.00 -12.98L114.42 -12.39M115.00 -12.98L115.57 -12.39M114.42 -12.39L115.00 -11.80M115.57 -12.39L115.00 -11.80M119.60 -6.49L119.02 -4.72M119.02 -3.54L119.60 -1.77M121.90 -8.26L123.62 -8.26M121.90 0.00L123.62 0.00M120.75 -7.67L119.60 -6.49M124.77 -7.67L125.92 -6.49M119.60 -1.77L120.75 -0.59M125.92 -1.77L124.77 -0.59M121.90 -8.26L120.75 -7.67M123.62 -8.26L124.77 -7.67M120.75 -0.59L121.90 0.00M124.77 -0.59L123.62 0.00M119.02 -4.72L119.02 -3.54M136.27 -8.26L136.27 0.00M129.95 -6.49L129.38 -4.72M129.38 -3.54L129.95 -1.77M132.25 -8.26L133.97 -8.26M132.25 0.00L133.97 0.00M131.10 -7.67L129.95 -6.49M135.12 -7.67L136.27 -6.49M129.95 -1.77L131.10 -0.59M136.27 -1.77L135.12 -0.59M132.25 -8.26L131.10 -7.67M133.97 -8.26L135.12 -7.67M131.10 -0.59L132.25 0.00M135.12 -0.59L133.97 0.00M129.38 -4.72L129.38 -3.54M140.88 -12.39L140.88 0.00M148.35 -9.44L148.92 -6.49M148.92 -4.13L148.35 -1.18M147.20 -11.80L148.35 -9.44M148.35 -1.18L147.20 1.18M148.92 -6.49L148.92 -4.13M146.05 -13.57L147.20 -11.80M147.20 1.18L146.05 2.95M144.90 -14.75L146.05 -13.57M146.05 2.95L144.90 4.13" fill="none" stroke="#000" stroke-width="1.50" stroke-linecap="round" stroke-linejoin="round" />
<path transform="translate(322.90 52.30)" d="M6.12 -6.30L1.31 0.00M1.31 -6.30L6.12 -6.30M1.31 0.00L6.12 0.00M9.18 -5.40L17.04 -5.40M9.18 -2.70L17.04 -2.70M24.47 -4.50L20.10 0.00M20.10 0.00L26.22 0.00M22.29 -9.45L24.04 -9.45M25.35 -5.85L24.47 -4.50M22.29 -9.45L21.41 -9.00M24.04 -9.45L24.91 -9.00M20.98 -8.55L20.54 -7.65M25.35 -8.55L25.78 -7.65M25.78 -6.75L25.35 -5.85M25.78 -7.65L25.78 -6.75M21.41 -9.00L20.98 -8.55M24.91 -9.00L25.35 -8.55M20.54 -7.65L20.54 -7.20M29.72 -0.90L29.28 -0.45M29.72 -0.90L30.15 -0.45M29.28 -0.45L29.72 0.00M30.15 -0.45L29.72 0.00M33.65 -7.65L33.21 -5.40M38.89 -7.65L39.33 -5.40M33.21 -4.05L33.65 -1.80M39.33 -4.05L38.89 -1.80M34.52 -9.00L33.65 -7.65M38.02 -9.00L38.89 -7.65M33.65 -1.80L34.52 -0.45M38.89 -1.80L38.02 -0.45M35.83 -9.45L34.52 -9.00M36.71 -9.45L38.02 -9.00M34.52 -0.45L35.83 0.00M38.02 -0.45L36.71 0.00M33.21 -5.40L33.21 -4.05M39.33 -5.40L39.33 -4.05M35.83 -9.45L36.71 -9.45M35.83 0.00L36.71 0.00" fill="none" stroke="#1a1a1a" stroke-width="1.05" stroke-linecap="round" stroke-linejoin="round" />
<path transform="translate(735.60 52.30)" d="M6.12 -6.30L1.31 0.00M1.31 -6.30L6.12 -6.30M1.31 0.00L6.12 0.00M9.18 -5.40L17.04 -5.40M9.18 -2.70L17.04 -2.70M20.54 -7.65L20.10 -5.40M25.78 -7.65L26.22 -5.40M20.10 -4.05L20.54 -1.80M26.22 -4.05L25.78 -1.80M21.41 -9.00L20.54 -7.65M24.91 -9.00L25.78 -7.65M20.54 -1.80L21.41 -0.45M25.78 -1.80L24.91 -0.45M22.72 -9.45L21.41 -9.00M23.60 -9.45L24.91 -9.00M21.41 -0.45L22.72 0.00M24.91 -0.45L23.60 0.00M20.10 -5.40L20.10 -4.05M26.22 -5.40L26.22 -4.05M22.72 -9.45L23.60 -9.45M22.72 0.00L23.60 0.00M29.72 -0.90L29.28 -0.45M29.72 -0.90L30.15 -0.45M29.28 -0.45L29.72 0.00M30.15 -0.45L29.72 0.00M33.65 -7.65L33.21 -5.40M38.89 -7.65L39.33 -5.40M33.21 -4.05L33.65 -1.80M39.33 -4.05L38.89 -1.80M34.52 -9.00L33.65 -7.65M38.02 -9.00L38.89 -7.65M33.65 -1.80L34.52 -0.45M38.89 -1.80L38.02 -0.45M35.83 -9.45L34.52 -9.00M36.71 -9.45L38.02 -9.00M34.52 -0.45L35.83 0.00M38.02 -0.45L36.71 0.00M33.21 -5.40L33.21 -4.05M39.33 -5.40L39.33 -4.05M35.83 -9.45L36.71 -9.45M35.83 0.00L36.71 0.00" fill="none" stroke="#1a1a1a" stroke-width="1.05" stroke-linecap="round" stroke-linejoin="round" />
<rect x="89.2" y="49.5" width="119.8" height="32.9" fill="#fff" stroke="#4a4a4a" stroke-width="0.9"/>
<line x1="96.7" x2="124.9" y1="60.4" y2="60.4" stroke="#f00" stroke-width="1.8"/>
<line x1="96.7" x2="124.9" y1="73.8" y2="73.8" stroke="#00f" stroke-width="1.8"/>
<path transform="translate(130.40 64.00)" d="M3.36 -7.67L0.37 0.00M3.36 -7.67L6.34 0.00M1.49 -2.55L5.22 -2.55M7.09 0.00L13.05 0.00M14.92 -7.67L14.92 0.00M14.92 0.00L19.40 0.00M24.62 -3.65L20.89 0.00M20.89 0.00L26.11 0.00M22.75 -7.67L24.25 -7.67M25.36 -4.75L24.62 -3.65M22.75 -7.67L22.01 -7.30M24.25 -7.67L24.99 -7.30M21.63 -6.93L21.26 -6.21M25.36 -6.93L25.74 -6.21M25.74 -5.47L25.36 -4.75M25.74 -6.21L25.74 -5.47M22.01 -7.30L21.63 -6.93M24.99 -7.30L25.36 -6.93M21.26 -6.21L21.26 -5.84M28.72 -6.21L28.35 -4.38M33.20 -6.21L33.57 -4.38M28.35 -3.29L28.72 -1.46M33.57 -3.29L33.20 -1.46M29.47 -7.30L28.72 -6.21M32.45 -7.30L33.20 -6.21M28.72 -1.46L29.47 -0.36M33.20 -1.46L32.45 -0.36M30.59 -7.67L29.47 -7.30M31.33 -7.67L32.45 -7.30M29.47 -0.36L30.59 0.00M32.45 -0.36L31.33 0.00M28.35 -4.38L28.35 -3.29M33.57 -4.38L33.57 -3.29M30.59 -7.67L31.33 -7.67M30.59 0.00L31.33 0.00M36.18 -5.11L36.18 0.00M40.28 -3.65L40.28 0.00M37.30 -4.75L36.18 -3.65M39.91 -4.75L40.28 -3.65M38.05 -5.11L39.16 -5.11M38.05 -5.11L37.30 -4.75M39.16 -5.11L39.91 -4.75M43.64 -7.67L47.37 -7.67M43.64 -7.67L43.27 -4.38M44.76 -5.11L43.64 -4.75M45.88 -5.11L47.00 -4.75M47.74 -4.01L48.12 -2.92M48.12 -2.19L47.74 -1.09M43.64 -0.36L44.76 0.00M47.00 -0.36L45.88 0.00M44.76 -5.11L45.88 -5.11M44.76 0.00L45.88 0.00M47.00 -4.75L47.74 -4.01M47.74 -1.09L47.00 -0.36M42.90 -1.46L43.27 -0.73M48.12 -2.92L48.12 -2.19M43.64 -4.75L43.27 -4.38M43.27 -0.73L43.64 -0.36M53.34 -7.67L53.34 0.00M53.34 -7.67L52.22 -6.57M52.22 -6.57L51.47 -6.21M61.55 -3.65L57.81 0.00M57.81 0.00L63.04 0.00M59.68 -7.67L61.17 -7.67M62.29 -4.75L61.55 -3.65M59.68 -7.67L58.93 -7.30M61.17 -7.67L61.92 -7.30M58.56 -6.93L58.19 -6.21M62.29 -6.93L62.66 -6.21M62.66 -5.47L62.29 -4.75M62.66 -6.21L62.66 -5.47M58.93 -7.30L58.56 -6.93M61.92 -7.30L62.29 -6.93M58.19 -6.21L58.19 -5.84" fill="none" stroke="#3a3a3a" stroke-width="0.85" stroke-linecap="round" stroke-linejoin="round" />
<path transform="translate(130.40 77.30)" d="M1.12 -4.75L1.12 -2.92M4.85 -2.92L6.71 -2.92M3.36 -7.67L4.85 -7.67M3.36 0.00L4.85 0.00M1.49 -5.84L1.12 -4.75M1.12 -2.92L1.49 -1.82M6.71 -2.92L6.71 -1.82M2.61 -7.30L1.86 -6.57M5.59 -7.30L6.34 -6.57M1.86 -1.09L2.61 -0.36M6.34 -1.09L5.59 -0.36M3.36 -7.67L2.61 -7.30M4.85 -7.67L5.59 -7.30M1.86 -6.57L1.49 -5.84M6.34 -6.57L6.71 -5.84M1.49 -1.82L1.86 -1.09M6.71 -1.82L6.34 -1.09M2.61 -0.36L3.36 0.00M5.59 -0.36L4.85 0.00M8.21 0.00L14.17 0.00M16.04 -7.67L16.04 0.00M16.04 0.00L20.52 0.00M25.74 -3.65L22.01 0.00M22.01 0.00L27.23 0.00M23.87 -7.67L25.36 -7.67M26.48 -4.75L25.74 -3.65M23.87 -7.67L23.13 -7.30M25.36 -7.67L26.11 -7.30M22.75 -6.93L22.38 -6.21M26.48 -6.93L26.86 -6.21M26.86 -5.47L26.48 -4.75M26.86 -6.21L26.86 -5.47M23.13 -7.30L22.75 -6.93M26.11 -7.30L26.48 -6.93M22.38 -6.21L22.38 -5.84M29.84 -6.21L29.47 -4.38M34.32 -6.21L34.69 -4.38M29.47 -3.29L29.84 -1.46M34.69 -3.29L34.32 -1.46M30.59 -7.30L29.84 -6.21M33.57 -7.30L34.32 -6.21M29.84 -1.46L30.59 -0.36M34.32 -1.46L33.57 -0.36M31.70 -7.67L30.59 -7.30M32.45 -7.67L33.57 -7.30M30.59 -0.36L31.70 0.00M33.57 -0.36L32.45 0.00M29.47 -4.38L29.47 -3.29M34.69 -4.38L34.69 -3.29M31.70 -7.67L32.45 -7.67M31.70 0.00L32.45 0.00M37.30 -5.11L37.30 0.00M41.40 -3.65L41.40 0.00M38.42 -4.75L37.30 -3.65M41.03 -4.75L41.40 -3.65M39.16 -5.11L40.28 -5.11M39.16 -5.11L38.42 -4.75M40.28 -5.11L41.03 -4.75M44.76 -7.67L48.49 -7.67M44.76 -7.67L44.39 -4.38M45.88 -5.11L44.76 -4.75M47.00 -5.11L48.12 -4.75M48.86 -4.01L49.24 -2.92M49.24 -2.19L48.86 -1.09M44.76 -0.36L45.88 0.00M48.12 -0.36L47.00 0.00M45.88 -5.11L47.00 -5.11M45.88 0.00L47.00 0.00M48.12 -4.75L48.86 -4.01M48.86 -1.09L48.12 -0.36M44.01 -1.46L44.39 -0.73M49.24 -2.92L49.24 -2.19M44.76 -4.75L44.39 -4.38M44.39 -0.73L44.76 -0.36M54.46 -7.67L54.46 0.00M54.46 -7.67L53.34 -6.57M53.34 -6.57L52.59 -6.21M62.66 -3.65L58.93 0.00M58.93 0.00L64.16 0.00M60.80 -7.67L62.29 -7.67M63.41 -4.75L62.66 -3.65M60.80 -7.67L60.05 -7.30M62.29 -7.67L63.04 -7.30M59.68 -6.93L59.31 -6.21M63.41 -6.93L63.78 -6.21M63.78 -5.47L63.41 -4.75M63.78 -6.21L63.78 -5.47M60.05 -7.30L59.68 -6.93M63.04 -7.30L63.41 -6.93M59.31 -6.21L59.31 -5.84" fill="none" stroke="#3a3a3a" stroke-width="0.85" stroke-linecap="round" stroke-linejoin="round" />
</svg></body></html>
